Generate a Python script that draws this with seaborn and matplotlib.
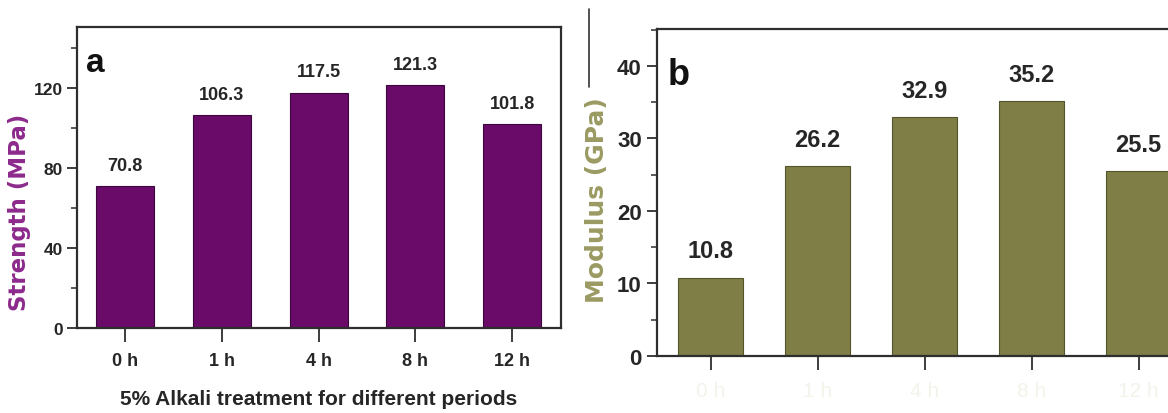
import matplotlib
matplotlib.use("Agg")
import matplotlib.pyplot as plt
from matplotlib.lines import Line2D
from matplotlib.ticker import MultipleLocator
import seaborn as sns

# ---- data ----
periods = ["0 h", "1 h", "4 h", "8 h", "12 h"]
strength = [70.8, 106.3, 117.5, 121.3, 101.8]
modulus = [10.8, 26.2, 32.9, 35.2, 25.5]
strength_labels = ["70.8", "106.3", "117.5", "121.3", "101.8"]
modulus_labels = ["10.8", "26.2", "32.9", "35.2", "25.5"]

sns.set_theme(style="white")
NARROW = ["Liberation Sans", "DejaVu Sans"]
WIDE = ["DejaVu Sans"]
plt.rcParams["font.family"] = NARROW

PURPLE = "#6a0b6a"
PURPLE_LBL = "#8c2a8c"
OLIVE = "#7e7e46"
OLIVE_LBL = "#9a9a62"
SPINE = "#2e2e2e"
TXT = "#262626"

fig = plt.figure(figsize=(11.68, 4.14), dpi=100)
W, H = 1168, 414

def axes_px(left, right, top, bottom):
    return fig.add_axes([left / W, 1 - bottom / H, (right - left) / W, (bottom - top) / H])

ax1 = axes_px(76.5, 560.6, 28, 329)
ax2 = axes_px(657, 1192, 30, 357)

sns.barplot(x=periods, y=strength, color=PURPLE, saturation=1, width=0.6,
            edgecolor="#3c073c", linewidth=0.8, ax=ax1)
sns.barplot(x=periods, y=modulus, color=OLIVE, saturation=1, width=0.6,
            edgecolor="#55552c", linewidth=0.8, ax=ax2)

for ax in (ax1, ax2):
    ax.set_xlim(-0.5, 4.5)
    for s in ax.spines.values():
        s.set_color(SPINE)
        s.set_linewidth(1.6)
    ax.tick_params(axis="both", which="both", direction="out", color=SPINE,
                   left=True, bottom=True, top=False, right=False)
    ax.tick_params(axis="y", which="major", length=7, width=1.3)
    ax.tick_params(axis="y", which="minor", length=4, width=1.1)
    ax.tick_params(axis="x", which="major", length=10, width=1.3)
    ax.set_xlabel("")

# panel a
ax1.set_ylim(0, 150.5)
ax1.yaxis.set_major_locator(MultipleLocator(40))
ax1.yaxis.set_minor_locator(MultipleLocator(20))
ax1.set_yticks([0, 40, 80, 120])
ax1.tick_params(axis="y", labelsize=12.5, labelcolor=TXT, pad=3)
ax1.tick_params(axis="x", labelsize=13, labelcolor=TXT, pad=7)
for lab in ax1.get_xticklabels() + ax1.get_yticklabels():
    lab.set_fontweight("bold")
ax1.set_ylabel("Strength (MPa)", fontsize=16.5, fontweight="bold", color=PURPLE_LBL,
               family=WIDE, va="center")
ax1.yaxis.set_label_coords(-0.117, 0.389)
ax1.set_xlabel("5% Alkali treatment for different periods", fontsize=15,
               fontweight="bold", color=TXT, labelpad=15)
for i, (v, t) in enumerate(zip(strength, strength_labels)):
    ax1.annotate(t, (i, v), xytext=(0, 9), textcoords="offset points",
                 ha="center", va="bottom", fontsize=13, fontweight="bold", color=TXT)
ax1.text(0.02, 0.854, "a", transform=ax1.transAxes, fontsize=24, fontweight="bold",
         ha="left", va="baseline", color="#111111")

# panel b
ax2.set_ylim(0, 45.1)
ax2.yaxis.set_major_locator(MultipleLocator(10))
ax2.yaxis.set_minor_locator(MultipleLocator(5))
ax2.tick_params(axis="y", labelsize=16, labelcolor=TXT, pad=4)
ax2.tick_params(axis="x", labelsize=15, labelcolor="#f3f3ea", pad=8)
for lab in ax2.get_yticklabels():
    lab.set_fontweight("bold")
ax2.spines["right"].set_visible(False)
ax2.set_ylabel("Modulus (GPa)", fontsize=18, fontweight="bold", color=OLIVE_LBL,
               family=WIDE, va="center")
ax2.yaxis.set_label_coords(-0.112, 0.48)
for i, (v, t) in enumerate(zip(modulus, modulus_labels)):
    ax2.annotate(t, (i, v), xytext=(0, 11), textcoords="offset points",
                 ha="center", va="bottom", fontsize=17, fontweight="bold", color=TXT)
ax2.text(0.02, 0.832, "b", transform=ax2.transAxes, fontsize=26, fontweight="bold",
         ha="left", va="baseline", color="#111111")

# thin divider artifact between the panels
fig.add_artist(Line2D([589 / W, 589 / W], [1 - 10 / H, 1 - 88 / H],
                      transform=fig.transFigure, color="#333333", linewidth=1.2))

fig.savefig("out.png", dpi=100)
